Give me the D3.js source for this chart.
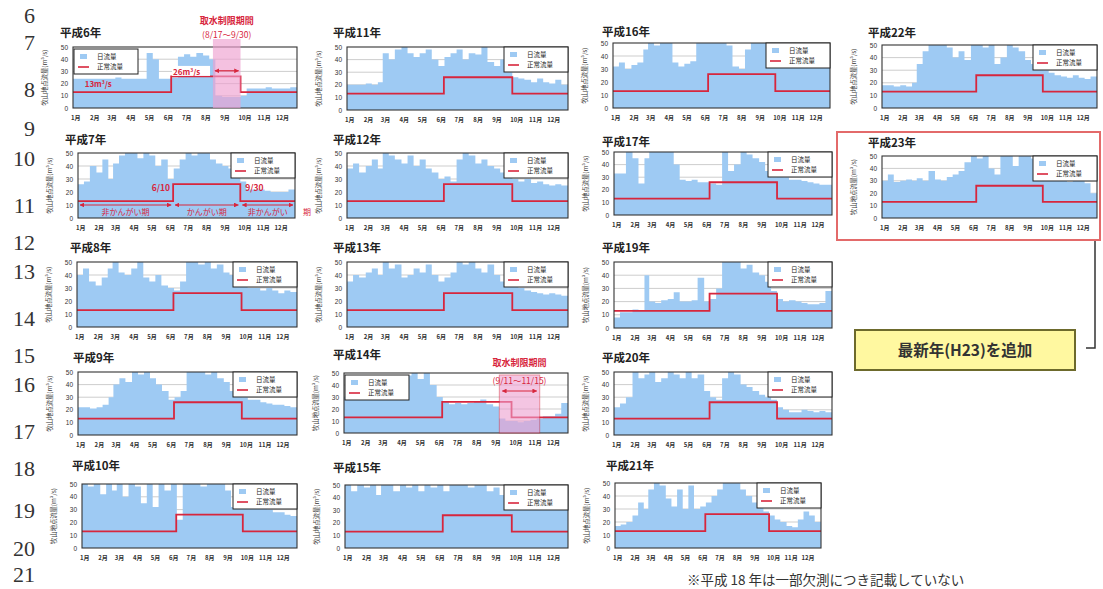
<!DOCTYPE html>
<html><head><meta charset="utf-8">
<script src="https://cdn.jsdelivr.net/npm/d3@7"></script>
<style>body{margin:0;background:#fff}svg{display:block}</style>
</head><body>
<svg id="c" width="1103" height="589"></svg>
<script>
// ---------- data ----------
const monthLabels = ["1月","2月","3月","4月","5月","6月","7月","8月","9月","10月","11月","12月"];
const yTickValues = [0,10,20,30,40,50];
const normalFlowStart = ["2001-01-01","2001-06-10","2001-10-01"];
const normalFlowValue = [13,26,13];
const lineNumbers = ["6","7","8","9","10","11","12","13","14","15","16","17","18","19","20","21"];
const yAxisTitle = "牧山地点流量(m³/s)";
const legendLabels = ["日流量","正常流量"];
// 10-day (旬) daily-flow readings, m3/s, Jan..Dec x 3
const flowH6  = [24,24,24, 24,24,24, 24,25,24, 24,24,24, 45,40,24, 24,25,42, 44,42,45, 43,40,10, 9,9,9, 10,16,16, 16,17,16, 16,16,17];
const flowH7  = [26,28,40, 35,45,30, 42,48,50, 50,46,50, 48,40,45, 30,38,45, 50,48,50, 50,45,42, 40,38,35, 28,22,22, 22,21,20, 20,20,22];
const flowH8  = [40,45,35, 32,38,45, 50,42,40, 45,50,38, 35,40,32, 30,28,35, 50,50,48, 50,45,48, 42,40,35, 32,30,30, 28,30,28, 26,28,27];
const flowH9  = [22,22,21, 22,24,30, 40,45,42, 50,48,50, 45,40,35, 28,30,35, 50,50,50, 48,50,45, 42,35,38, 30,28,28, 26,25,24, 24,23,22];
const flowH10 = [50,48,50, 42,50,45, 50,40,50, 48,35,50, 32,50,45, 50,22,50, 50,50,48, 50,50,50, 45,32,38, 40,38,35, 32,30,28, 28,26,25];
const flowH11 = [20,20,20, 21,20,22, 45,40,48, 50,45,42, 45,48,40, 35,42,45, 48,40,45, 44,50,38, 35,40,30, 26,25,24, 22,25,22, 21,24,20];
const flowH12 = [38,42,35, 40,45,38, 50,48,45, 42,48,40, 45,38,35, 30,32,28, 45,50,48, 42,45,40, 38,35,36, 30,28,30, 27,28,26, 25,26,25];
const flowH13 = [35,40,38, 42,45,40, 50,45,48, 38,40,45, 42,48,40, 35,38,42, 50,48,50, 45,42,48, 40,35,38, 32,30,28, 27,26,25, 26,25,24];
const flowH14 = [30,30,32, 30,28,30, 32,35,30, 38,48,50, 45,50,40, 30,26,24, 25,24,25, 26,28,24, 22,12,10, 10,9,10, 11,12,14, 14,16,25];
const flowH15 = [50,45,50, 48,50,42, 50,50,45, 50,48,50, 45,50,48, 50,45,50, 50,50,48, 50,50,45, 48,42,40, 38,35,36, 35,38,34, 32,35,33];
const flowH16 = [32,35,30, 33,35,45, 50,48,50, 50,35,32, 34,36,50, 50,50,50, 50,48,32, 30,45,50, 50,50,48, 50,48,50, 45,48,50, 46,48,45];
const flowH17 = [33,33,50, 45,25,45, 50,50,50, 50,40,28, 27,28,26, 26,25,24, 50,35,40, 50,48,45, 42,35,30, 32,30,28, 28,27,26, 25,24,24];
const flowH19 = [8,12,12, 14,13,40, 20,19,21, 22,27,20, 20,21,38, 20,22,30, 50,50,50, 45,48,42, 40,35,28, 22,20,21, 20,19,18, 18,19,28];
const flowH20 = [22,25,30, 50,45,48, 50,42,45, 50,48,45, 50,45,48, 35,30,28, 45,50,48, 40,38,35, 32,30,28, 22,20,18, 18,20,19, 18,19,18];
const flowH21 = [17,18,20, 25,35,30, 45,50,48, 38,32,45, 30,48,30, 32,35,40, 45,50,50, 50,45,40, 35,32,28, 25,22,20, 17,16,22, 28,25,20];
const flowH22 = [18,18,17, 18,17,20, 35,45,50, 50,50,48, 40,45,38, 50,50,48, 50,35,40, 50,48,45, 38,35,32, 30,28,26, 25,24,26, 24,23,25];
const flowH23 = [30,35,29, 30,31,30, 32,30,38, 31,30,33, 35,38,45, 50,48,50, 40,35,50, 50,42,50, 50,48,50, 45,40,32, 30,29,30, 30,28,20];
const restrictH6 = ["2001-08-17","2001-10-01"];
const restrictH14 = ["2001-09-11","2001-11-16"];
const h7PeriodStart = ["2001-01-01","2001-06-10","2001-10-01"];
const h7PeriodEnd = ["2001-06-10","2001-10-01","2002-01-01"];
const h7PeriodText = ["非かんがい期","かんがい期","非かんがい"];
const h7DateText = ["6/10","9/30"];

// ---------- layout ----------
const panels = [
  {t:"平成6年", d:flowH6, x0:73, x1:297, y0:47, y1:108, tx:60, ty:33, leg:"left"},
  {t:"平成7年", d:flowH7, x0:78, x1:295, y0:153, y1:218, tx:65, ty:140, leg:"right"},
  {t:"平成8年", d:flowH8, x0:77, x1:297, y0:262, y1:327, tx:70, ty:248, leg:"right"},
  {t:"平成9年", d:flowH9, x0:78, x1:297, y0:372, y1:435, tx:73, ty:358, leg:"right"},
  {t:"平成10年", d:flowH10, x0:82, x1:297, y0:484, y1:548, tx:72, ty:466, leg:"right"},
  {t:"平成11年", d:flowH11, x0:347, x1:568, y0:47, y1:110, tx:333, ty:33, leg:"right"},
  {t:"平成12年", d:flowH12, x0:347, x1:568, y0:153, y1:218, tx:333, ty:140, leg:"right"},
  {t:"平成13年", d:flowH13, x0:347, x1:568, y0:262, y1:327, tx:333, ty:248, leg:"right"},
  {t:"平成14年", d:flowH14, x0:344, x1:568, y0:373, y1:433, tx:333, ty:355, leg:"left"},
  {t:"平成15年", d:flowH15, x0:345, x1:568, y0:485, y1:548, tx:333, ty:468, leg:"right"},
  {t:"平成16年", d:flowH16, x0:613, x1:830, y0:43, y1:108, tx:602, ty:32, leg:"right"},
  {t:"平成17年", d:flowH17, x0:614, x1:832, y0:152, y1:215, tx:602, ty:142, leg:"right"},
  {t:"平成19年", d:flowH19, x0:614, x1:832, y0:262, y1:328, tx:602, ty:248, leg:"right"},
  {t:"平成20年", d:flowH20, x0:614, x1:832, y0:372, y1:435, tx:602, ty:358, leg:"right"},
  {t:"平成21年", d:flowH21, x0:615, x1:821, y0:483, y1:548, tx:606, ty:466, leg:"right"},
  {t:"平成22年", d:flowH22, x0:882, x1:1097, y0:45, y1:108, tx:868, ty:33, leg:"right"},
  {t:"平成23年", d:flowH23, x0:882, x1:1097, y0:156, y1:218, tx:868, ty:143, leg:"right"}
];
const lineNumberY = [15,42,89,128,158,205,242,271,318,355,384,431,468,510,548,574];

const JP = "'Noto Sans CJK JP','Noto Sans',sans-serif";
const BLUE = "#9ecaf3", RED = "#d7263d";
const svg = d3.select("#c");
const parse = d3.timeParse("%Y-%m-%d");
const periodStart = i => new Date(2001, Math.floor(i/3), 1 + 10*(i%3));
const yearEnd = new Date(2002,0,1);

svg.append("defs").html(`
 <marker id="ah" viewBox="0 0 10 10" refX="9" refY="5" markerWidth="4" markerHeight="4" orient="auto-start-reverse"><path d="M0,0L10,5L0,10z" fill="${RED}"/></marker>`);

// line numbers
svg.append("g").selectAll("text").data(lineNumbers).join("text")
  .attr("x",35).attr("y",(d,i)=>lineNumberY[i]).attr("dy","0.35em")
  .attr("text-anchor","end").attr("font-family","'Liberation Serif','DejaVu Serif',serif")
  .attr("font-size",22).attr("fill","#333").text(d=>d);

const scalesByTitle = {};
panels.forEach(p=>{
  const g = svg.append("g");
  const xs = d3.scaleTime().domain([new Date(2001,0,1), yearEnd]).range([p.x0,p.x1]);
  const ys = d3.scaleLinear().domain([0,50]).range([p.y1,p.y0]);
  scalesByTitle[p.t] = {xs,ys,g,p};
  g.append("text").attr("x",p.tx).attr("y",p.ty+4).attr("font-family",JP).attr("font-weight","bold")
    .attr("font-size",11.5).attr("fill","#222").text(p.t);
  g.append("g").selectAll("line").data(yTickValues.slice(1,-1)).join("line")
    .attr("x1",p.x0).attr("x2",p.x1).attr("y1",d=>ys(d)).attr("y2",d=>ys(d))
    .attr("stroke","#b8b8b8").attr("stroke-width",0.7);
  const pts = p.d.map((v,i)=>({d:periodStart(i), v:Math.min(v,50)}));
  pts.push({d:yearEnd, v:pts[pts.length-1].v});
  g.append("path").datum(pts)
    .attr("d", d3.area().curve(d3.curveStepAfter).x(d=>xs(d.d)).y0(ys(0)).y1(d=>ys(d.v)))
    .attr("fill",BLUE);
  const nf = normalFlowStart.map((s,i)=>({d:parse(s), v:normalFlowValue[i]}));
  nf.push({d:yearEnd, v:normalFlowValue[normalFlowValue.length-1]});
  g.append("path").datum(nf)
    .attr("d", d3.line().curve(d3.curveStepAfter).x(d=>xs(d.d)).y(d=>ys(d.v)))
    .attr("fill","none").attr("stroke",RED).attr("stroke-width",1.8);
  g.append("rect").attr("x",p.x0).attr("y",p.y0).attr("width",p.x1-p.x0).attr("height",p.y1-p.y0)
    .attr("fill","none").attr("stroke","#333").attr("stroke-width",1.1);
  const ya = g.append("g").attr("transform",`translate(${p.x0},0)`)
    .call(d3.axisLeft(ys).tickValues(yTickValues).tickSize(0).tickPadding(5));
  ya.select(".domain").remove();
  ya.selectAll("text").attr("font-size",6.5).attr("font-family","'Liberation Sans',Arial,sans-serif").attr("fill","#333");
  g.append("text").attr("transform",`translate(${p.x0-26},${(p.y0+p.y1)/2}) rotate(-90)`)
    .attr("text-anchor","middle").attr("font-family",JP).attr("font-size",6.3).attr("fill","#333").text(yAxisTitle);
  g.append("g").selectAll("text").data(monthLabels).join("text")
    .attr("x",(d,i)=>xs(new Date(2001,i,1))-2).attr("y",p.y1+12)
    .attr("font-family",JP).attr("font-size",6).attr("font-weight","bold").attr("fill","#333").text(d=>d);
  const lw=64, lh=25;
  const lx = p.leg==="left" ? p.x0+1 : p.x1-lw;
  const ly = p.leg==="left" ? p.y0+2 : p.y0;
  const lg = g.append("g").attr("transform",`translate(${lx},${ly})`);
  lg.append("rect").attr("width",lw).attr("height",lh).attr("fill","#fff").attr("stroke","#222").attr("stroke-width",1);
  lg.append("rect").attr("x",6).attr("y",5).attr("width",7).attr("height",5).attr("fill",BLUE);
  lg.append("line").attr("x1",4).attr("x2",15).attr("y1",18).attr("y2",18).attr("stroke",RED).attr("stroke-width",1.6);
  lg.selectAll("text.l").data(legendLabels).join("text").attr("class","l")
    .attr("x",23).attr("y",(d,i)=>10+i*10).attr("font-family",JP).attr("font-size",6.5).attr("fill","#222").text(d=>d);
});

// ---------- H6 annotations ----------
(function(){
  const {xs,ys,g,p} = scalesByTitle["平成6年"];
  const a = xs(parse(restrictH6[0])), b = xs(parse(restrictH6[1]));
  g.append("rect").attr("x",a).attr("y",p.y0-8).attr("width",b-a).attr("height",p.y1-p.y0+8)
    .attr("fill","#ee9fcf").attr("opacity",0.65);
  g.append("text").attr("x",(a+b)/2).attr("y",24).attr("text-anchor","middle").attr("font-family",JP)
    .attr("font-weight","bold").attr("font-size",9).attr("fill",RED).text("取水制限期間");
  g.append("text").attr("x",(a+b)/2).attr("y",38).attr("text-anchor","middle").attr("font-family",JP)
    .attr("font-size",8.5).attr("fill",RED).text("(8/17～9/30)");
  g.append("line").attr("x1",a+2).attr("x2",b-2).attr("y1",ys(30.5)).attr("y2",ys(30.5))
    .attr("stroke",RED).attr("stroke-width",1.2).attr("marker-start","url(#ah)").attr("marker-end","url(#ah)");
  const l26x = xs(new Date(2001,5,13));
  g.append("rect").attr("x",l26x-1).attr("y",ys(34.5)).attr("width",38).attr("height",10).attr("fill","#fff");
  g.append("text").attr("x",l26x).attr("y",ys(27)).attr("font-family",JP).attr("font-weight","bold")
    .attr("font-size",8).attr("fill",RED).html('26m<tspan dy="-3" font-size="5">3</tspan><tspan dy="3">/s</tspan>');
  g.append("text").attr("x",xs(new Date(2001,0,20))).attr("y",ys(17)).attr("font-family",JP).attr("font-weight","bold")
    .attr("font-size",8).attr("fill",RED).html('13m<tspan dy="-3" font-size="5">3</tspan><tspan dy="3">/s</tspan>');
})();

// ---------- H7 annotations ----------
(function(){
  const {xs,ys,g,p} = scalesByTitle["平成7年"];
  h7PeriodStart.forEach((s,i)=>{
    const a = xs(parse(s))+2, b = xs(parse(h7PeriodEnd[i]))-2;
    g.append("line").attr("x1",a).attr("x2",b).attr("y1",ys(10)).attr("y2",ys(10))
      .attr("stroke",RED).attr("stroke-width",1.2).attr("marker-start","url(#ah)").attr("marker-end","url(#ah)");
    g.append("text").attr("x",(a+b)/2).attr("y",ys(2.5)).attr("text-anchor","middle").attr("font-family",JP)
      .attr("font-size",8).attr("fill",RED).text(h7PeriodText[i]);
  });
  g.append("text").attr("x",p.x1+12).attr("y",ys(2.5)).attr("text-anchor","middle").attr("font-family",JP)
    .attr("font-size",8).attr("fill",RED).text("期");
  g.append("text").attr("x",xs(parse("2001-06-10"))-3).attr("y",ys(21)).attr("text-anchor","end").attr("font-family",JP)
    .attr("font-weight","bold").attr("font-size",8.5).attr("fill",RED).text(h7DateText[0]);
  g.append("text").attr("x",xs(parse("2001-10-01"))+5).attr("y",ys(21)).attr("font-family",JP)
    .attr("font-weight","bold").attr("font-size",8.5).attr("fill",RED).text(h7DateText[1]);
})();

// ---------- H14 annotations ----------
(function(){
  const {xs,ys,g,p} = scalesByTitle["平成14年"];
  const a = xs(parse(restrictH14[0])), b = xs(parse(restrictH14[1]));
  g.append("rect").attr("x",a).attr("y",p.y0+2).attr("width",b-a).attr("height",p.y1-p.y0-2)
    .attr("fill","#ee9fcf").attr("opacity",0.6).attr("stroke",RED).attr("stroke-width",0.8);
  g.append("text").attr("x",(a+b)/2).attr("y",366).attr("text-anchor","middle").attr("font-family",JP)
    .attr("font-weight","bold").attr("font-size",9).attr("fill",RED).text("取水制限期間");
  g.append("text").attr("x",(a+b)/2).attr("y",ys(41)).attr("text-anchor","middle").attr("font-family",JP)
    .attr("font-size",8.5).attr("fill",RED).text("(9/11～11/15)");
  g.append("line").attr("x1",a+3).attr("x2",b-3).attr("y1",ys(35)).attr("y2",ys(35))
    .attr("stroke",RED).attr("stroke-width",1.2).attr("marker-start","url(#ah)").attr("marker-end","url(#ah)");
})();

// ---------- H23 highlight + callout ----------
svg.append("rect").attr("x",837).attr("y",132).attr("width",263).attr("height",108)
  .attr("fill","none").attr("stroke","#e36a6a").attr("stroke-width",2);
svg.append("path").attr("d","M1095,241V348H1086").attr("fill","none").attr("stroke","#333").attr("stroke-width",1.5);
svg.append("rect").attr("x",855).attr("y",330).attr("width",220).attr("height",40)
  .attr("fill","#fff8a0").attr("stroke","#6d6a2c").attr("stroke-width",2);
svg.append("text").attr("x",965).attr("y",356).attr("text-anchor","middle").attr("font-family",JP)
  .attr("font-weight","bold").attr("font-size",15.5).attr("fill","#333").text("最新年(H23)を追加");

// footnote
svg.append("text").attr("x",687).attr("y",585).attr("font-family",JP).attr("font-size",13.5)
  .attr("fill","#333").text("※平成 18 年は一部欠測につき記載していない");
</script>
</body></html>
